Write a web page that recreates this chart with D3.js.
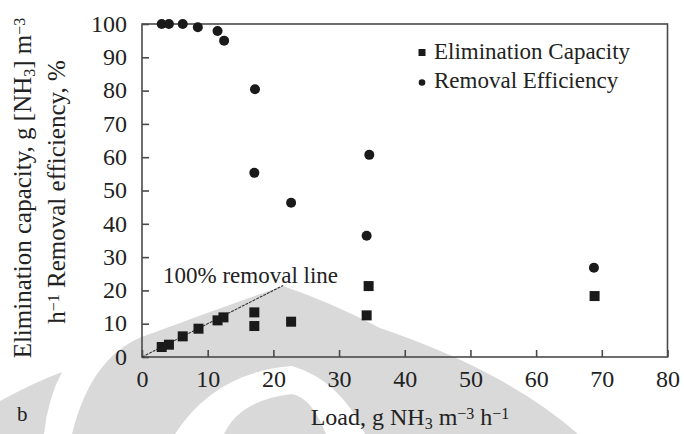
<!DOCTYPE html>
<html>
<head>
<meta charset="utf-8">
<script src="https://cdn.jsdelivr.net/npm/d3@7"></script>
<style>
  body { margin: 0; background: #fff; }
  svg { display: block; }
  text { font-family: "Liberation Serif", "DejaVu Serif", serif; fill: #222; }
</style>
</head>
<body>
<div id="chart"></div>
<script>
// values (load in g NH3 m-3 h-1)
const reLoad = [3.0, 4.1, 6.2, 8.5, 11.5, 12.5, 17.2, 17.1, 22.7, 34.6, 34.2, 68.8];
const reValues = [100, 100, 100, 99, 97.9, 95, 80.4, 55.3, 46.3, 60.7, 36.4, 26.8];
const ecLoad = [3.0, 4.1, 6.2, 8.6, 11.5, 12.4, 17.1, 17.1, 22.7, 34.5, 34.2, 68.9];
const ecValues = [3.0, 3.7, 6.2, 8.5, 11.0, 11.9, 13.4, 9.3, 10.6, 21.3, 12.5, 18.3];
const removalLine = [0, 21.5];   // 100% removal: EC = load
const xTicks = [0, 10, 20, 30, 40, 50, 60, 70, 80];
const yTicks = [0, 10, 20, 30, 40, 50, 60, 70, 80, 90, 100];

function main() {
    const width = 684;
    const height = 434;
    const margin = { top: 24, right: 16.5, bottom: 77, left: 142 };

    const svg = d3.select('#chart').append('svg')
        .attr('width', width)
        .attr('height', height);

    // faint watermark behind the chart (decoration only)
    const wm = svg.append('g').attr('fill', '#d9d9d9');
    wm.append('path').attr('d', 'M0,401 Q35,382 62,372 Q48,398 44,434 L0,434 Z');
    wm.append('path').attr('d', 'M72,434 Q92,352 150,334 Q215,310 283,286 Q330,302 380,328 Q450,352 500,380 Q545,405 578,434 Z');
    wm.append('path').attr('fill', '#fff')
        .attr('d', 'M175,434 Q215,372 292,366 Q340,380 365,434 L326,434 Q312,398 292,394 Q240,400 224,434 Z');

    const x = d3.scaleLinear().domain([0, 80]).range([margin.left, width - margin.right]);
    const y = d3.scaleLinear().domain([0, 100]).range([height - margin.bottom, margin.top]);

    const axisColour = '#4a4a4a';

    // frame
    svg.append('rect')
        .attr('x', x(0)).attr('y', y(100))
        .attr('width', x(80) - x(0)).attr('height', y(0) - y(100))
        .attr('fill', 'none')
        .attr('stroke', axisColour)
        .attr('stroke-width', 1.6);

    // inward ticks with labels
    const xAxis = svg.append('g')
        .attr('transform', 'translate(0,' + y(0) + ')')
        .call(d3.axisBottom(x).tickValues(xTicks).tickSizeInner(-7).tickSizeOuter(0).tickPadding(13));
    const yAxis = svg.append('g')
        .attr('transform', 'translate(' + x(0) + ',0)')
        .call(d3.axisLeft(y).tickValues(yTicks).tickSizeInner(-7).tickSizeOuter(0).tickPadding(15));

    [xAxis, yAxis].forEach(function(ax) {
        ax.select('.domain').remove();
        ax.selectAll('line').attr('stroke', axisColour).attr('stroke-width', 1.6);
        ax.selectAll('text')
            .style('font-family', '"Liberation Serif", serif')
            .style('font-size', '24px')
            .attr('fill', '#222');
    });
    xAxis.selectAll('text').attr('dy', '0.72em');
    yAxis.selectAll('text').attr('dy', '0.3em');

    // 100% removal line
    svg.append('line')
        .attr('x1', x(removalLine[0])).attr('y1', y(removalLine[0]))
        .attr('x2', x(removalLine[1])).attr('y2', y(removalLine[1]))
        .attr('stroke', '#333')
        .attr('stroke-width', 1.1)
        .attr('stroke-dasharray', '3,1');

    svg.append('text')
        .attr('x', x(3.2))
        .attr('y', 283)
        .style('font-size', '23px')
        .text('100% removal line');

    const reData = reLoad.map((d, i) => ({ load: d, value: reValues[i] }));
    const ecData = ecLoad.map((d, i) => ({ load: d, value: ecValues[i] }));

    svg.append('g').selectAll('circle')
        .data(reData)
        .enter()
        .append('circle')
        .attr('cx', d => x(d.load))
        .attr('cy', d => y(d.value))
        .attr('r', 5)
        .attr('fill', '#1a1a1a');

    const sq = 10;
    svg.append('g').selectAll('rect')
        .data(ecData)
        .enter()
        .append('rect')
        .attr('x', d => x(d.load) - sq / 2)
        .attr('y', d => y(d.value) - sq / 2)
        .attr('width', sq)
        .attr('height', sq)
        .attr('fill', '#1a1a1a');

    // legend
    const legend = svg.append('g').attr('transform', 'translate(422,0)');
    legend.append('rect')
        .attr('x', -3.5).attr('y', 49)
        .attr('width', 7).attr('height', 7)
        .attr('fill', '#1a1a1a');
    legend.append('text')
        .attr('x', 12).attr('y', 59)
        .style('font-size', '23px')
        .text('Elimination Capacity');
    legend.append('circle')
        .attr('cx', 0).attr('cy', 82.5)
        .attr('r', 3.3)
        .attr('fill', '#1a1a1a');
    legend.append('text')
        .attr('x', 12).attr('y', 88)
        .style('font-size', '23px')
        .text('Removal Efficiency');

    // x axis title
    const xTitle = svg.append('text')
        .attr('x', 410)
        .attr('y', 425)
        .attr('text-anchor', 'middle')
        .style('font-size', '24px');
    xTitle.append('tspan').text('Load, g NH');
    xTitle.append('tspan').attr('baseline-shift', '-25%').style('font-size', '16px').text('3');
    xTitle.append('tspan').text(' m');
    xTitle.append('tspan').attr('baseline-shift', '40%').style('font-size', '16px').text('\u22123');
    xTitle.append('tspan').text(' h');
    xTitle.append('tspan').attr('baseline-shift', '40%').style('font-size', '16px').text('\u22121');

    // y axis title, two lines
    const yTitle = svg.append('g').attr('transform', 'translate(0,188) rotate(-90)');
    const l1 = yTitle.append('text')
        .attr('x', 0).attr('y', 31)
        .attr('text-anchor', 'middle')
        .style('font-size', '25px');
    l1.append('tspan').text('Elimination capacity, g [NH');
    l1.append('tspan').attr('baseline-shift', '-25%').style('font-size', '16px').text('3');
    l1.append('tspan').text('] m');
    l1.append('tspan').attr('baseline-shift', '40%').style('font-size', '16px').text('\u22123');

    const l2 = yTitle.append('text')
        .attr('x', -4).attr('y', 65)
        .attr('text-anchor', 'middle')
        .style('font-size', '25px');
    l2.append('tspan').text('h');
    l2.append('tspan').attr('baseline-shift', '40%').style('font-size', '16px').text('\u22121');
    l2.append('tspan').text(' Removal efficiency, %');

    // panel letter
    svg.append('text')
        .attr('x', 17).attr('y', 421)
        .style('font-size', '21px')
        .text('b');
}

main();
</script>
</body>
</html>
